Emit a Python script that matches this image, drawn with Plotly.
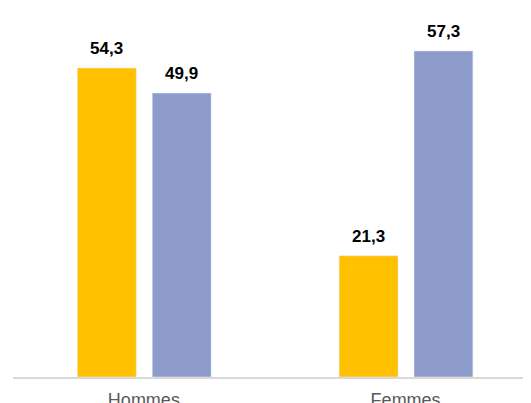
import plotly.graph_objects as go

categories = ["Hommes", "Femmes"]
series_a = [54.3, 21.3]
series_b = [49.9, 57.3]
labels_a = ["54,3", "21,3"]
labels_b = ["49,9", "57,3"]

color_a = "#FFC000"
color_b = "#8E9CCB"
bar_w = 0.225
off_a = -0.254
off_b = 0.032

fig = go.Figure()
fig.add_trace(go.Bar(x=categories, y=series_a, marker_color=color_a, width=bar_w, offset=off_a, showlegend=False))
fig.add_trace(go.Bar(x=categories, y=series_b, marker_color=color_b, width=bar_w, offset=off_b, showlegend=False))

annotations = []
for i, cat in enumerate(categories):
    for vals, labs, off in ((series_a, labels_a, off_a), (series_b, labels_b, off_b)):
        annotations.append(dict(
            x=i + off + bar_w / 2, y=vals[i], xref="x", yref="y",
            text="<b>" + labs[i] + "</b>", showarrow=False,
            yanchor="bottom", yshift=8,
            font=dict(family="Liberation Sans, Arial", size=17, color="#000000"),
        ))

fig.update_layout(
    width=523, height=395,
    margin=dict(l=5, r=0, t=0, b=26),
    paper_bgcolor="white", plot_bgcolor="white",
    barmode="group",
    annotations=annotations,
    xaxis=dict(
        type="category", range=[-0.5, 1.479],
        automargin=False,
        showline=True, linecolor="#D9D9D9", linewidth=2,
        showgrid=False, zeroline=False, ticks="",
        ticklabelstandoff=5,
        tickfont=dict(family="Liberation Sans, Arial", size=18, color="#595959"),
    ),
    yaxis=dict(range=[0, 64.85], visible=False, showgrid=False, zeroline=False),
)

fig.write_html("out.html")
